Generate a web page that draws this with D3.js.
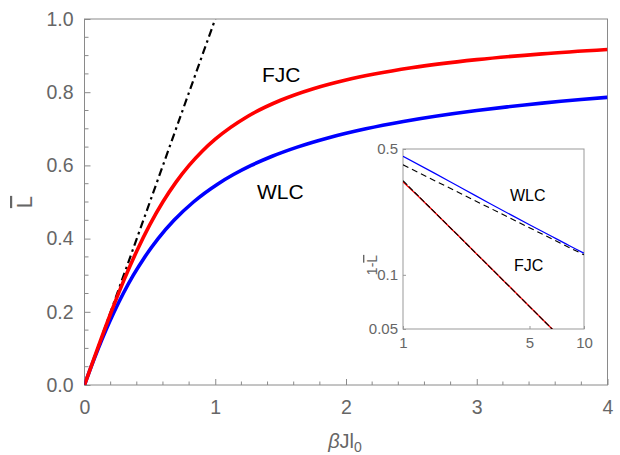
<!DOCTYPE html>
<html>
<head>
<meta charset="utf-8">
<script src="https://cdn.jsdelivr.net/npm/d3@7"></script>
<style>
  html, body { margin: 0; padding: 0; background: #fff; }
  svg { display: block; font-family: "Liberation Sans", Arial, sans-serif; }
</style>
</head>
<body>
<svg id="chart" width="620" height="455"></svg>
<script>
// Mean extension vs. reduced force: freely-jointed chain and worm-like chain
const fjcX = [0, 0.1, 0.2, 0.3, 0.4, 0.5, 0.6, 0.7, 0.8, 0.9, 1.0, 1.25, 1.5, 1.75, 2.0, 2.5, 3.0, 3.5, 4.0];
const fjcL = [0, 0.0994, 0.1954, 0.2851, 0.3662, 0.4381, 0.5006, 0.5543, 0.5999, 0.6387, 0.6716, 0.7344, 0.7780, 0.8096, 0.8334, 0.8667, 0.8889, 0.9048, 0.9167];

const wlcX = [0, 0.0513, 0.1058, 0.1640, 0.2271, 0.2963, 0.3735, 0.4612, 0.5630, 0.6843, 0.8333, 1.0231, 1.1394, 1.2750, 1.4352, 1.6272, 1.8612, 2.1519, 2.4392, 3.0, 3.2335, 3.7969, 4.0];
const wlcL = [0, 0.05, 0.10, 0.15, 0.20, 0.25, 0.30, 0.35, 0.40, 0.45, 0.50, 0.55, 0.575, 0.60, 0.625, 0.65, 0.675, 0.70, 0.72, 0.75, 0.76, 0.78, 0.7861];

// small-force tangent
const linX = [0, 1];
const linL = [0, 1];

// inset: 1 - L on log-log axes
const insWlcX = [1, 1.5, 2, 2.5, 3, 4, 5, 6, 7, 8, 9, 10];
const insWlcY = [0.4555, 0.366, 0.3123, 0.2762, 0.25, 0.2139, 0.1898, 0.1723, 0.1589, 0.1481, 0.1392, 0.1318];
const insWlcAsX = [1, 10];
const insWlcAsY = [0.4082, 0.1291];
const insFjcX = [1, 1.25, 1.5, 2, 3, 5, 7];
const insFjcY = [0.3284, 0.2656, 0.2220, 0.1667, 0.1111, 0.0667, 0.0476];
const insFjcAsX = [1, 7];
const insFjcAsY = [0.3333, 0.0476];

const xMajor = [0, 1, 2, 3, 4];
const yMajor = [0, 0.2, 0.4, 0.6, 0.8, 1.0];
const insXTicks = [1, 5, 10];
const insYTicks = [0.05, 0.1, 0.5];

const zip = (a, b) => a.map((v, i) => [v, b[i]]);

const svg = d3.select("#chart");
const frameColor = "#8a8a8a";
const labelColor = "#666";

// ---- main panel ----
const x = d3.scaleLinear().domain([0, 4]).range([84.5, 607.5]);
const y = d3.scaleLinear().domain([0, 1]).range([385, 19]);

const main = svg.append("g");

main.append("rect")
  .attr("x", x(0)).attr("y", y(1))
  .attr("width", x(4) - x(0)).attr("height", y(0) - y(1))
  .attr("fill", "none").attr("stroke", frameColor).attr("stroke-width", 1);

// inward ticks
const xMinor = d3.range(0, 4.0001, 0.2).filter(v => Math.abs(v - Math.round(v)) > 1e-6);
const yMinor = d3.range(0, 1.0001, 0.05).filter(v => Math.abs(v * 5 - Math.round(v * 5)) > 1e-6);

const bottomAxis = d3.axisBottom(x).tickValues(xMajor).tickSize(-6).tickPadding(15).tickFormat(d3.format("d"));
const leftAxis = d3.axisLeft(y).tickValues(yMajor).tickSize(-6).tickPadding(11).tickFormat(d3.format(".1f"));

const gx = main.append("g").attr("transform", `translate(0,${y(0)})`).call(bottomAxis);
const gy = main.append("g").attr("transform", `translate(${x(0)},0)`).call(leftAxis);
[gx, gy].forEach(g => {
  g.select(".domain").remove();
  g.selectAll(".tick line").attr("stroke", frameColor);
  g.selectAll(".tick text").attr("fill", labelColor).attr("font-size", 19.5).attr("font-family", "Liberation Sans, Arial, sans-serif");
});

main.append("g").selectAll("line").data(xMinor).join("line")
  .attr("x1", d => x(d)).attr("x2", d => x(d))
  .attr("y1", y(0)).attr("y2", y(0) - 3.5)
  .attr("stroke", frameColor);
main.append("g").selectAll("line").data(yMinor).join("line")
  .attr("y1", d => y(d)).attr("y2", d => y(d))
  .attr("x1", x(0)).attr("x2", x(0) + 4)
  .attr("stroke", frameColor);

// axis titles
main.append("text")
  .attr("x", 345).attr("y", 448)
  .attr("text-anchor", "middle").attr("fill", labelColor).attr("font-size", 20)
  .html('<tspan font-style="italic">β</tspan>Jl<tspan dy="4" font-size="14">0</tspan>');

main.append("text")
  .attr("transform", `translate(32,${(y(0) + y(1)) / 2}) rotate(-90)`)
  .attr("text-anchor", "middle").attr("fill", labelColor).attr("font-size", 22)
  .style("text-decoration", "overline")
  .text("L");

// curves
const line = d3.line().x(d => x(d[0])).y(d => y(d[1])).curve(d3.curveMonotoneX);

const clipMain = svg.append("clipPath").attr("id", "clipMain");
clipMain.append("rect").attr("x", x(0)).attr("y", y(1)).attr("width", x(4) - x(0)).attr("height", y(0) - y(1));

const curves = main.append("g").attr("clip-path", "url(#clipMain)");
curves.append("path").datum(zip(linX, linL))
  .attr("d", d3.line().x(d => x(d[0])).y(d => y(d[1])))
  .attr("fill", "none").attr("stroke", "#000").attr("stroke-width", 2.2)
  .attr("stroke-dasharray", "8,4,2.5,4");
curves.append("path").datum(zip(wlcX, wlcL))
  .attr("d", line).attr("fill", "none").attr("stroke", "#0000ff").attr("stroke-width", 3.6);
curves.append("path").datum(zip(fjcX, fjcL))
  .attr("d", line).attr("fill", "none").attr("stroke", "#ff0000").attr("stroke-width", 3.6);

main.append("text").attr("x", 262).attr("y", 82).attr("font-size", 21).attr("fill", "#000").text("FJC");
main.append("text").attr("x", 257).attr("y", 199).attr("font-size", 21).attr("fill", "#000").text("WLC");

// ---- inset ----
const ix = d3.scaleLog().domain([1, 10]).range([403, 584]);
const iy = d3.scaleLog().domain([0.05, 0.5]).range([329, 149]);
const inset = svg.append("g");

inset.append("rect")
  .attr("x", ix(1)).attr("y", iy(0.5))
  .attr("width", ix(10) - ix(1)).attr("height", iy(0.05) - iy(0.5))
  .attr("fill", "#fff").attr("stroke", "#999").attr("stroke-width", 1);

const igx = inset.append("g").attr("transform", `translate(0,${iy(0.05)})`)
  .call(d3.axisBottom(ix).tickValues(insXTicks).tickSize(-3).tickPadding(8).tickFormat(d3.format("d")));
const igy = inset.append("g").attr("transform", `translate(${ix(1)},0)`)
  .call(d3.axisLeft(iy).tickValues(insYTicks).tickSize(-3).tickPadding(5).tickFormat(d => String(d)));
[igx, igy].forEach(g => {
  g.select(".domain").remove();
  g.selectAll(".tick line").attr("stroke", "#999");
  g.selectAll(".tick text").attr("fill", labelColor).attr("font-size", 15).attr("font-family", "Liberation Sans, Arial, sans-serif");
});

inset.append("text")
  .attr("transform", `translate(377,265) rotate(-90)`)
  .attr("text-anchor", "middle").attr("fill", labelColor).attr("font-size", 14)
  .html('1-<tspan style="text-decoration: overline">L</tspan>');

const clipIn = svg.append("clipPath").attr("id", "clipIn");
clipIn.append("rect").attr("x", ix(1)).attr("y", iy(0.5)).attr("width", ix(10) - ix(1)).attr("height", iy(0.05) - iy(0.5));

const iline = d3.line().x(d => ix(d[0])).y(d => iy(d[1])).curve(d3.curveMonotoneX);
const ic = inset.append("g").attr("clip-path", "url(#clipIn)");
ic.append("path").datum(zip(insWlcX, insWlcY)).attr("d", iline)
  .attr("fill", "none").attr("stroke", "#0000ff").attr("stroke-width", 1.2);
ic.append("path").datum(zip(insWlcAsX, insWlcAsY)).attr("d", iline)
  .attr("fill", "none").attr("stroke", "#000").attr("stroke-width", 1.1).attr("stroke-dasharray", "6,4");
ic.append("path").datum(zip(insFjcX, insFjcY)).attr("d", iline)
  .attr("fill", "none").attr("stroke", "#ff0000").attr("stroke-width", 1.4);
ic.append("path").datum(zip(insFjcAsX, insFjcAsY)).attr("d", iline)
  .attr("fill", "none").attr("stroke", "#000").attr("stroke-width", 1.1).attr("stroke-dasharray", "6,2");

inset.append("text").attr("x", 510).attr("y", 201).attr("font-size", 16).attr("fill", "#000").text("WLC");
inset.append("text").attr("x", 514).attr("y", 271).attr("font-size", 16).attr("fill", "#000").text("FJC");
</script>
</body>
</html>
